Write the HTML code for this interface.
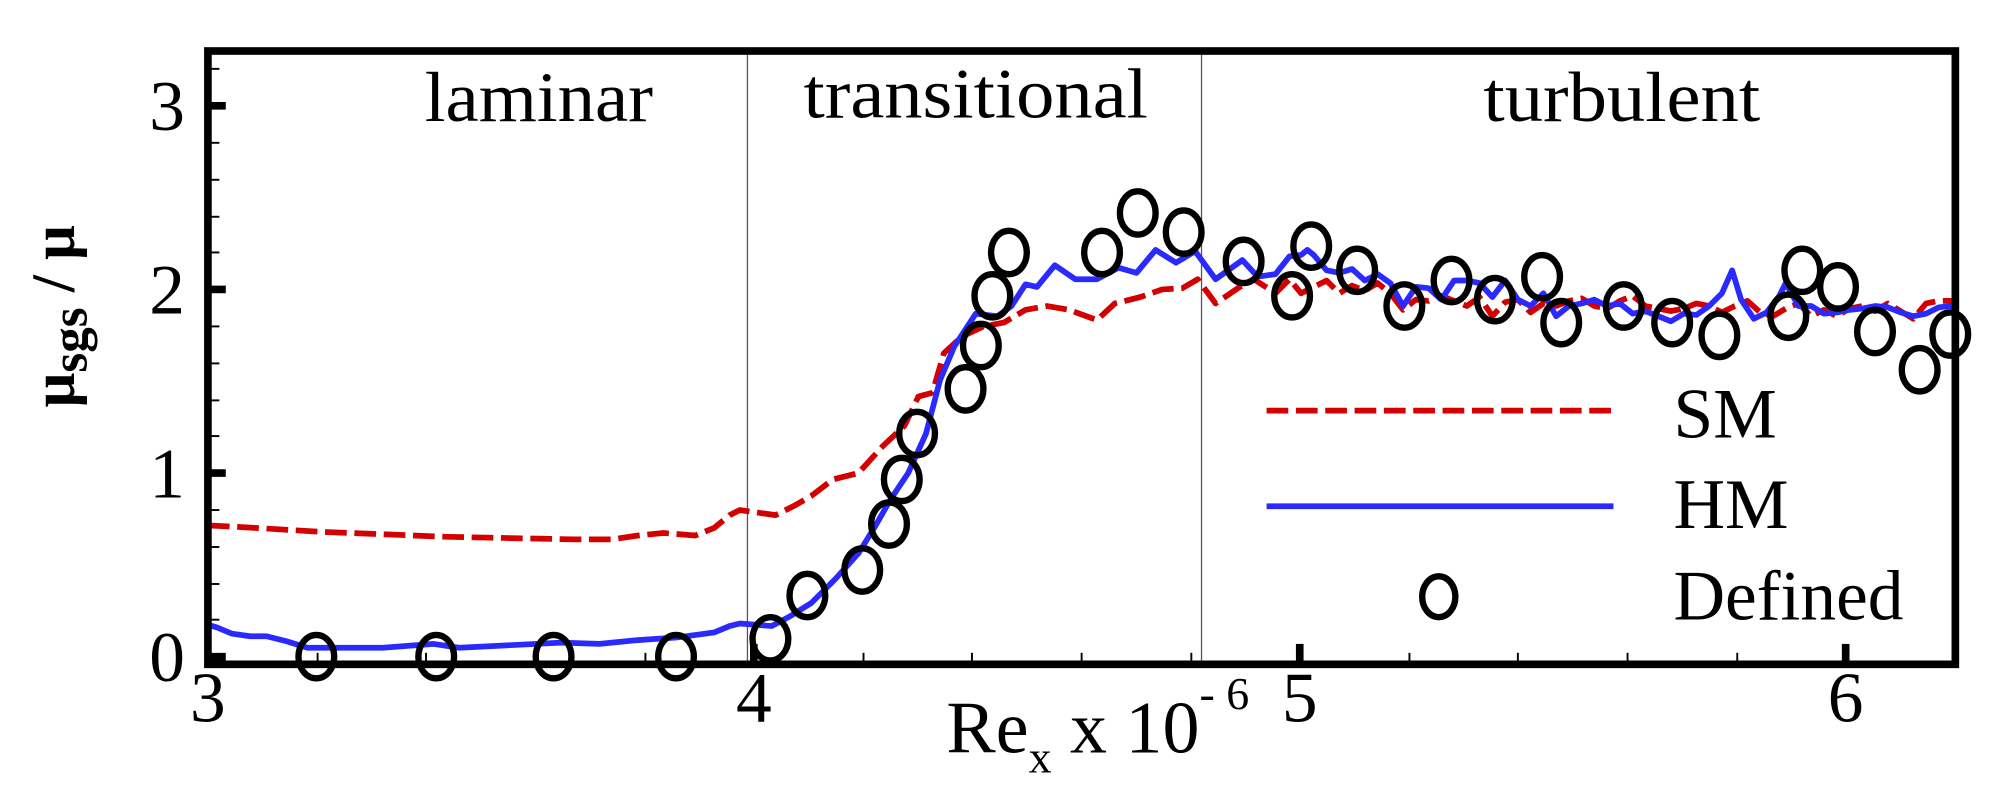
<!DOCTYPE html>
<html><head><meta charset="utf-8"><style>html,body{margin:0;padding:0;background:#fff;}svg{display:block}</style></head>
<body>
<svg width="2000" height="788" viewBox="0 0 1568 618" preserveAspectRatio="none" xmlns="http://www.w3.org/2000/svg" font-family="Liberation Serif, serif">
<rect width="1568" height="618" fill="#fff"/>
<line x1="586" y1="40" x2="586" y2="521" stroke="#555" stroke-width="1"/>
<line x1="942" y1="40" x2="942" y2="521" stroke="#555" stroke-width="1"/>
<g stroke="#000">
<g stroke-width="6">
<line x1="163" y1="515" x2="177" y2="515"/><line x1="163" y1="371" x2="177" y2="371"/><line x1="163" y1="227" x2="177" y2="227"/><line x1="163" y1="83" x2="177" y2="83"/>
<line x1="591" y1="521" x2="591" y2="505"/><line x1="1019" y1="521" x2="1019" y2="505"/><line x1="1447" y1="521" x2="1447" y2="505"/>
</g>
<g stroke-width="1.5">
<line x1="163" y1="54" x2="172" y2="54"/><line x1="163" y1="112" x2="172" y2="112"/><line x1="163" y1="141" x2="172" y2="141"/><line x1="163" y1="170" x2="172" y2="170"/><line x1="163" y1="198" x2="172" y2="198"/>
<line x1="163" y1="256" x2="172" y2="256"/><line x1="163" y1="285" x2="172" y2="285"/><line x1="163" y1="314" x2="172" y2="314"/><line x1="163" y1="342" x2="172" y2="342"/>
<line x1="163" y1="400" x2="172" y2="400"/><line x1="163" y1="429" x2="172" y2="429"/><line x1="163" y1="458" x2="172" y2="458"/><line x1="163" y1="486" x2="172" y2="486"/>
<line x1="249" y1="521" x2="249" y2="512"/><line x1="334" y1="521" x2="334" y2="512"/><line x1="420" y1="521" x2="420" y2="512"/><line x1="506" y1="521" x2="506" y2="512"/>
<line x1="677" y1="521" x2="677" y2="512"/><line x1="762" y1="521" x2="762" y2="512"/><line x1="848" y1="521" x2="848" y2="512"/><line x1="934" y1="521" x2="934" y2="512"/>
<line x1="1105" y1="521" x2="1105" y2="512"/><line x1="1190" y1="521" x2="1190" y2="512"/><line x1="1276" y1="521" x2="1276" y2="512"/><line x1="1362" y1="521" x2="1362" y2="512"/>
<line x1="1533" y1="521" x2="1533" y2="512"/>
</g>
</g>
<polyline fill="none" stroke="#d40000" stroke-width="4.5" stroke-dasharray="17,6" stroke-linejoin="round" points="163,412 200,414 250,417 300,419 350,421 400,422 450,423 480,423 500,420 520,418 545,420 560,414 572,404 580,400 594,402 608,404 622,397 636,389 653,376 673,371 692,350 709,334 720,311 731,308 740,277 754,264 771,256 787,253 804,243 821,240 838,243 860,251 874,238 894,233 911,227 927,226 939,219 953,238 972,225 983,219 1000,230 1011,219 1020,230 1030,225 1040,220 1050,230 1060,224 1070,228 1080,222 1090,230 1100,243 1110,235 1120,236 1130,232 1140,236 1150,240 1160,233 1170,248 1180,237 1190,235 1200,245 1210,238 1220,240 1230,236 1240,234 1250,240 1260,242 1270,236 1280,232 1290,240 1300,242 1310,244 1320,242 1330,238 1340,240 1350,245 1360,240 1370,236 1380,245 1390,248 1400,242 1410,238 1420,248 1430,243 1440,248 1450,242 1460,240 1470,244 1480,238 1490,244 1500,250 1510,238 1520,236 1530,236"/>
<polyline fill="none" stroke="#2a2aff" stroke-width="4.5" stroke-linejoin="round" points="163,490 170,492 182,497 196,499 209,499 225,503 241,508 270,508 300,508 340,505 360,508 400,506 440,504 470,505 500,502 530,500 560,496 572,491 580,489 593,490 605,491 620,483 636,473 655,454 673,434 686,413 698,392 712,371 726,340 737,298 748,272 765,246 782,248 793,240 804,223 813,225 827,208 843,219 860,219 877,210 891,214 906,196 922,206 937,197 953,219 974,204 986,217 1000,215 1011,201 1020,200 1025,196 1030,200 1040,212 1050,214 1060,211 1070,220 1080,215 1090,222 1100,240 1110,225 1120,226 1130,235 1140,220 1150,220 1160,222 1170,233 1180,220 1190,235 1200,240 1210,230 1220,248 1230,240 1240,238 1250,235 1260,240 1270,238 1280,246 1290,244 1300,248 1310,252 1320,246 1330,247 1340,240 1350,230 1358,212 1365,235 1375,250 1385,245 1395,232 1400,222 1410,240 1420,240 1430,246 1440,245 1450,243 1460,242 1470,240 1480,241 1490,245 1500,248 1510,246 1520,241 1530,240"/>
<g fill="none" stroke="#000" stroke-width="5">
<ellipse cx="248" cy="515" rx="14" ry="17"/><ellipse cx="342" cy="515" rx="14" ry="17"/><ellipse cx="434" cy="515" rx="14" ry="17"/><ellipse cx="530" cy="515" rx="14" ry="17"/>
<ellipse cx="604" cy="501" rx="14" ry="17"/><ellipse cx="633" cy="467" rx="14" ry="17"/><ellipse cx="676" cy="447" rx="14" ry="17"/><ellipse cx="697" cy="411" rx="14" ry="17"/>
<ellipse cx="707" cy="376" rx="14" ry="17"/><ellipse cx="719" cy="340" rx="14" ry="17"/><ellipse cx="757" cy="305" rx="14" ry="17"/><ellipse cx="769" cy="271" rx="14" ry="17"/>
<ellipse cx="778" cy="232" rx="14" ry="17"/><ellipse cx="791" cy="198" rx="14" ry="17"/><ellipse cx="864" cy="198" rx="14" ry="17"/><ellipse cx="892" cy="167" rx="14" ry="17"/>
<ellipse cx="928" cy="182" rx="14" ry="17"/><ellipse cx="975" cy="205" rx="14" ry="17"/><ellipse cx="1013" cy="232" rx="14" ry="17"/><ellipse cx="1028" cy="193" rx="14" ry="17"/>
<ellipse cx="1064" cy="212" rx="14" ry="17"/><ellipse cx="1101" cy="240" rx="14" ry="17"/><ellipse cx="1138" cy="220" rx="14" ry="17"/><ellipse cx="1172" cy="235" rx="14" ry="17"/>
<ellipse cx="1209" cy="217" rx="14" ry="17"/><ellipse cx="1224" cy="253" rx="14" ry="17"/><ellipse cx="1273" cy="240" rx="14" ry="17"/><ellipse cx="1311" cy="253" rx="14" ry="17"/>
<ellipse cx="1348" cy="263" rx="14" ry="17"/><ellipse cx="1402" cy="248" rx="14" ry="17"/><ellipse cx="1413" cy="212" rx="14" ry="17"/><ellipse cx="1441" cy="225" rx="14" ry="17"/>
<ellipse cx="1470" cy="260" rx="14" ry="17"/><ellipse cx="1505" cy="290" rx="14" ry="17"/><ellipse cx="1529" cy="262" rx="14" ry="17"/>
<ellipse cx="1128" cy="468" rx="13" ry="16"/>
</g>
<line x1="993" y1="322" x2="1265" y2="322" stroke="#d40000" stroke-width="4.5" stroke-dasharray="17,6"/>
<line x1="993" y1="397" x2="1265" y2="397" stroke="#2a2aff" stroke-width="4.5"/>
<g font-size="56" fill="#000">
<text x="1312" y="343">SM</text>
<text x="1312" y="414">HM</text>
<text x="1312" y="486">Defined</text>
<text x="333" y="95" textLength="179" lengthAdjust="spacingAndGlyphs">laminar</text>
<text x="630" y="92" textLength="270" lengthAdjust="spacingAndGlyphs">transitional</text>
<text x="1163" y="95" textLength="217" lengthAdjust="spacingAndGlyphs">turbulent</text>
<g text-anchor="end"><text x="145" y="534">0</text><text x="145" y="390">1</text><text x="145" y="246">2</text><text x="145" y="102">3</text></g>
<g text-anchor="middle"><text x="163" y="566">3</text><text x="591" y="566">4</text><text x="1019" y="566">5</text><text x="1447" y="566">6</text></g>
</g>
<text x="742" y="590" font-size="58">Re<tspan font-size="36" dy="16">x</tspan><tspan dy="-16"> x 10</tspan><tspan font-size="36" dy="-34">- 6</tspan></text>
<text transform="translate(58,248) rotate(-90)" text-anchor="middle" font-size="48" font-weight="bold">μ<tspan font-size="40" dy="10">sgs</tspan><tspan dy="-10"> / μ</tspan></text>
<rect x="163" y="40" width="1370" height="481" fill="none" stroke="#000" stroke-width="6"/>
</svg>
</body></html>
